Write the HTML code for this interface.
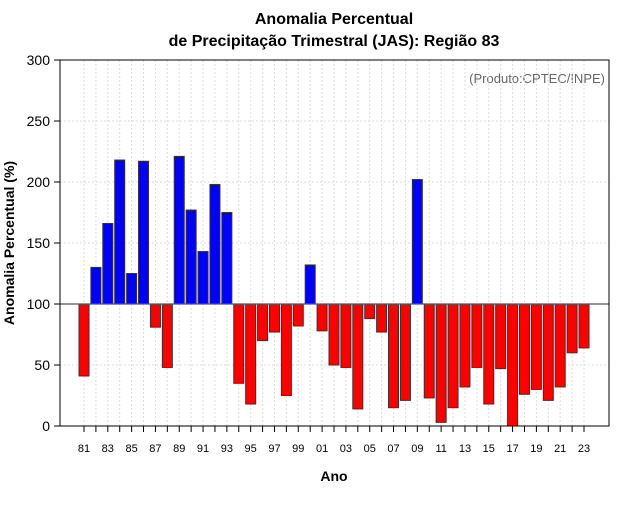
<!DOCTYPE html>
<html><head><meta charset="utf-8"><style>
body{margin:0;background:#fff;font-family:"Liberation Sans",sans-serif}
</style></head><body>
<svg id="c" width="640" height="500" xmlns="http://www.w3.org/2000/svg" font-family="Liberation Sans, sans-serif">
<text x="334" y="24" text-anchor="middle" font-size="16" font-weight="bold">Anomalia Percentual</text>
<text x="334" y="46" text-anchor="middle" font-size="16" font-weight="bold">de Precipitação Trimestral (JAS): Região 83</text>
<text x="334" y="481" text-anchor="middle" font-size="14" font-weight="bold">Ano</text>
<text x="14" y="243" text-anchor="middle" font-size="14" font-weight="bold" transform="rotate(-90 14 243)">Anomalia Percentual (%)</text>
<text x="605" y="83" text-anchor="end" font-size="13" fill="#666">(Produto:CPTEC/INPE)</text>
<g id="grid"></g><g id="bars"></g><g id="axes"></g>
<rect x="60" y="60" width="549" height="366" fill="none" stroke="#000" stroke-width="1"/>
</svg>
<script>
const years=['81','82','83','84','85','86','87','88','89','90','91','92','93','94','95','96','97','98','99','00','01','02','03','04','05','06','07','08','09','10','11','12','13','14','15','16','17','18','19','20','21','22','23'];
const values=[41,130,166,218,125,217,81,48,221,177,143,198,175,35,18,70,77,25,82,132,78,50,48,14,88,77,15,21,202,23,3,15,32,48,18,47,0,26,30,21,32,60,64];
const yTicks=[0,50,100,150,200,250,300];
const NS='http://www.w3.org/2000/svg';
const X=i=>84+i*11.905;
const Y=v=>426-v*1.22;
function mk(t,a,p){const e=document.createElementNS(NS,t);for(const k in a)e.setAttribute(k,a[k]);p.appendChild(e);return e;}
const g=document.getElementById('grid'),b=document.getElementById('bars'),ax=document.getElementById('axes');
years.forEach((y,i)=>{
 const l=mk('line',{x1:X(i),x2:X(i),y1:60,y2:426,stroke:'#ddd','stroke-dasharray':'2,2'},g);
 
 
 const t=mk('line',{x1:X(i),x2:X(i),y1:426,y2:432,stroke:'#000'},ax);
 
 
 if(i%2===0){const tx=mk('text',{x:X(i),y:452,'text-anchor':'middle','font-size':11},ax);tx.textContent=y;
 
 }
});
yTicks.forEach(v=>{
 const l=mk('line',{x1:60,x2:609,y1:Y(v),y2:Y(v),stroke:'#ddd','stroke-dasharray':'2,2'},g);
 
 
 const t=mk('line',{x1:54,x2:60,y1:Y(v),y2:Y(v),stroke:'#000'},ax);
 
 
 const tx=mk('text',{x:50,y:Y(v)+5,'text-anchor':'end','font-size':14},ax);tx.textContent=v;
 
 
});
values.forEach((v,i)=>{
 const top=Math.min(Y(v),Y(100)),h=Math.abs(Y(v)-Y(100));
 const r=mk('rect',{x:X(i)-5,y:top,width:10,height:h,fill:v>=100?'#0000ff':'#ff0000',stroke:'#333','stroke-width':1},b);
 
 
});
const base=mk('line',{x1:60,x2:609,y1:Y(100),y2:Y(100),stroke:'#555','stroke-width':1.2},ax);


</script>
</body></html>
